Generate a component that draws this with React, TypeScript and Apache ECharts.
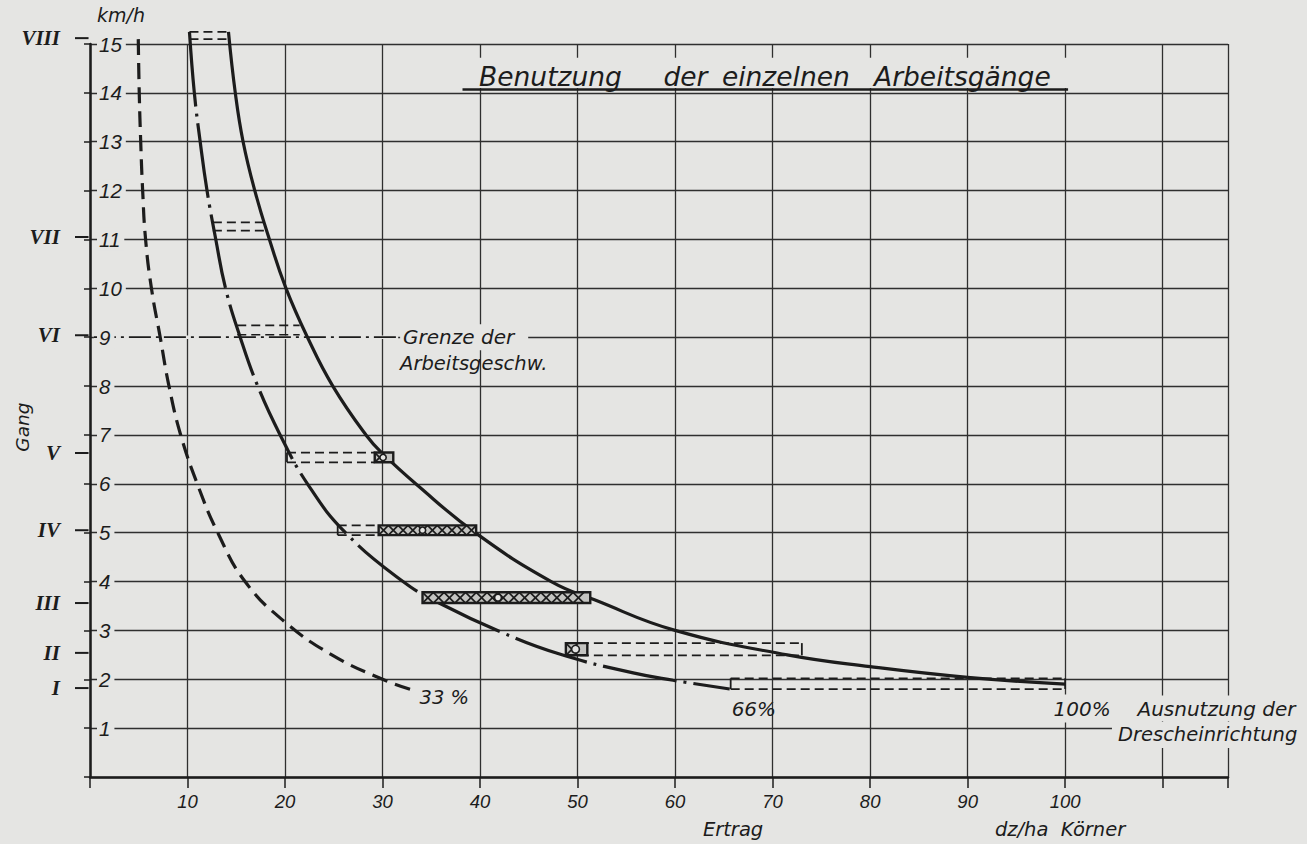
import React, { useEffect, useRef } from "react";
import * as echarts from "echarts";

const PAPER = "#e5e5e3";
const INK = "#1c1c1c";
const GRID_INK = "#2f2f2f";
const SANS = '"DejaVu Sans", "Liberation Sans", sans-serif';
const NUM = '"Liberation Sans", "DejaVu Sans", sans-serif';
const SERIF = '"Liberation Serif", "DejaVu Serif", serif';

// ---- axis tick labels ----
const xLabelValues = [10, 20, 30, 40, 50, 60, 70, 80, 90, 100];
const yLabelValues = [1, 2, 3, 4, 5, 6, 7, 8, 9, 10, 11, 12, 13, 14, 15];
const xMax = 116.7;
const yMax = 15;

// ---- curves (Ertrag dz/ha, km/h) ----
const curve33: number[][] = [
  [4.95, 15.1], [5.05, 14], [5.2, 13], [5.4, 12], [5.7, 11], [6.3, 10], [7.2, 9],
  [8.1, 8], [9.3, 7], [11.0, 6], [13.1, 5], [15.9, 4], [20.0, 3.17], [24.8, 2.5],
  [30.0, 2.0], [33.1, 1.78],
];
const curve66: number[][] = [
  [10.2, 15.25], [10.7, 14], [11.3, 13], [12.0, 12], [12.9, 11], [13.9, 10], [15.4, 9],
  [17.2, 8], [19.5, 7], [22.3, 6], [26.2, 5], [32.1, 4], [35.9, 3.55], [42.1, 2.97],
  [48.4, 2.5], [55.7, 2.13], [59.8, 1.98], [65.6, 1.8],
];
const curve100: number[][] = [
  [14.2, 15.25], [14.9, 14], [15.7, 13], [16.9, 12], [18.4, 11], [20.1, 10], [22.3, 9],
  [24.9, 8], [28.3, 7], [30.1, 6.6], [33.4, 6], [39.5, 5], [47.3, 4], [51.8, 3.62],
  [60.0, 3.0], [71.5, 2.5], [80, 2.26], [90, 2.04], [100, 1.9],
];

// ---- gears (Gang) ----
const gearNames = ["I", "II", "III", "IV", "V", "VI", "VII", "VIII"];
const gearSpeeds = [1.82, 2.54, 3.56, 5.05, 6.63, 9.04, 11.05, 15.12];
const boxLow = [1.8, 2.49, 3.56, 4.95, 6.44, 9.05, 11.18, 15.1];
const boxHigh = [2.02, 2.74, 3.78, 5.15, 6.64, 9.24, 11.35, 15.25];
const dashFrom: (number | null)[] = [65.7, 48.8, null, 25.4, 20.2, 15.1, 12.6, 10.2];
const dashTo: (number | null)[] = [100, 73.0, null, 29.6, 29.2, 21.5, 17.9, 14.2];
const hatchFrom: (number | null)[] = [null, 48.8, 34.1, 29.6, 29.2, null, null, null];
const hatchTo: (number | null)[] = [null, 51.0, 51.3, 39.6, 31.1, null, null, null];
const capLeft = [true, false, false, true, true, false, false, false];
const capRight = [true, true, false, false, false, false, false, false];

// ---- speed limit line ("Grenze der Arbeitsgeschw.") ----
const speedLimit = 9;
const speedLimitFrom = 0.4;
const speedLimitTo = 31.6;

// ---- texts (anchored in data coordinates) ----
type Note = { text: string; x: number; y: number; size: number; bg?: boolean; pad?: number[]; align?: string; rot?: number };
const notes: Note[] = [
  { text: "km/h", x: 0.72, y: 15.59, size: 19 },
  { text: "Gang", x: -6.97, y: 7.16, size: 18.5, align: "center", rot: Math.PI / 2 },
  { text: "Grenze der", x: 31.8, y: 9.0, size: 20, bg: true, pad: [3, 14, 3, 3] },
  { text: "Arbeitsgeschw.", x: 31.8, y: 8.47, size: 19.5 },
  { text: "33 %", x: 33.8, y: 1.62, size: 19.5 },
  { text: "66%", x: 65.8, y: 1.4, size: 20 },
  { text: "100%", x: 98.4, y: 1.4, size: 20, bg: true, pad: [4, 4, 4, 4] },
  { text: "Ausnutzung der", x: 106.8, y: 1.4, size: 20, bg: true, pad: [4, 4, 2, 6] },
  { text: "Drescheinrichtung", x: 104.8, y: 0.86, size: 19.5, bg: true, pad: [2, 4, 4, 6] },
  { text: "Ertrag", x: 62.85, y: -1.08, size: 19.5 },
  { text: "dz/ha  Körner", x: 92.8, y: -1.08, size: 19.5 },
];
const titleWords = [
  { text: "Benutzung", x: 39.9 },
  { text: "der", x: 58.8 },
  { text: "einzelnen", x: 64.8 },
  { text: "Arbeitsgänge", x: 80.4 },
];
const titleY = 14.33;
const titleFrom = 38.2;
const titleTo = 100.3;

function renderGear(params: any, api: any) {
  const i = params.dataIndex;
  const lo = boxLow[i];
  const hi = boxHigh[i];
  const children: any[] = [];
  const dashStyle = { stroke: INK, lineWidth: 1.7, lineDash: [9, 5] };
  const f = dashFrom[i];
  const t = dashTo[i];
  if (f != null && t != null) {
    const a = api.coord([f, hi]);
    const b = api.coord([t, hi]);
    const c = api.coord([f, lo]);
    const d = api.coord([t, lo]);
    children.push({ type: "line", shape: { x1: a[0], y1: a[1], x2: b[0], y2: b[1] }, style: dashStyle });
    children.push({ type: "line", shape: { x1: c[0], y1: c[1], x2: d[0], y2: d[1] }, style: dashStyle });
    if (capLeft[i]) children.push({ type: "line", shape: { x1: a[0], y1: a[1], x2: c[0], y2: c[1] }, style: { stroke: INK, lineWidth: 1.8 } });
    if (capRight[i]) children.push({ type: "line", shape: { x1: b[0], y1: b[1], x2: d[0], y2: d[1] }, style: { stroke: INK, lineWidth: 1.8 } });
  }
  const hf = hatchFrom[i];
  const ht = hatchTo[i];
  if (hf != null && ht != null) {
    const p0 = api.coord([hf, hi]);
    const p1 = api.coord([ht, lo]);
    const x0 = p0[0], y0 = p0[1], x1 = p1[0], y1 = p1[1];
    const h = y1 - y0;
    children.push({ type: "rect", shape: { x: x0, y: y0, width: x1 - x0, height: h }, style: { fill: "#c4c4c1", stroke: INK, lineWidth: 2.4 } });
    for (let x = x0; x + h <= x1 + 0.5; x += h) {
      children.push({ type: "line", shape: { x1: x, y1: y0, x2: x + h, y2: y1 }, style: { stroke: INK, lineWidth: 1.7 } });
      children.push({ type: "line", shape: { x1: x + h, y1: y0, x2: x, y2: y1 }, style: { stroke: INK, lineWidth: 1.7 } });
    }
    const cx = x0 + (x1 - x0) * 0.45;
    children.push({ type: "circle", shape: { cx, cy: (y0 + y1) / 2, r: h * 0.32 }, style: { fill: PAPER, stroke: INK, lineWidth: 1.6 } });
  }
  return { type: "group", children };
}

export default function App() {
  const ref = useRef<HTMLDivElement>(null);

  useEffect(() => {
    if (!ref.current) return;
    const chart = echarts.init(ref.current, null, { renderer: "svg" });
    const curveBase = { type: "line", symbol: "none", smooth: 0.45, clip: false, silent: true, z: 5 };
    chart.setOption({
      animation: false,
      backgroundColor: PAPER,
      grid: { left: 90, right: 79, top: 44, bottom: 67, containLabel: false },
      xAxis: {
        type: "value",
        min: 0,
        max: xMax,
        interval: 10,
        axisLine: { show: true, onZero: false, lineStyle: { color: INK, width: 2.5 } },
        axisTick: { show: true, length: 11, lineStyle: { color: INK, width: 1.5 } },
        axisLabel: {
          formatter: (v: number) => (xLabelValues.indexOf(Math.round(v)) >= 0 && Math.abs(v - Math.round(v)) < 1e-6 ? String(Math.round(v)) : ""),
          color: INK, fontSize: 18.5, fontStyle: "italic", fontFamily: NUM, margin: 15,
        },
        splitLine: { show: true, lineStyle: { color: GRID_INK, width: 1.3 } },
      },
      yAxis: {
        type: "value",
        min: 0,
        max: yMax,
        interval: 1,
        axisLine: { show: true, onZero: false, lineStyle: { color: INK, width: 2.5 } },
        axisTick: { show: true, length: 6, lineStyle: { color: INK, width: 1.5 } },
        axisLabel: { show: false },
        splitLine: { show: true, lineStyle: { color: GRID_INK, width: 1.3 } },
      },
      series: [
        { ...curveBase, name: "33 %", data: curve33, lineStyle: { color: INK, width: 3.2, type: [16, 8] } },
        { ...curveBase, name: "66%", data: curve66, lineStyle: { color: INK, width: 3.2, type: [75, 7, 3, 7] } },
        { ...curveBase, name: "100%", data: curve100, lineStyle: { color: INK, width: 3.2, type: "solid" } },
        {
          type: "line", symbol: "none", silent: true, z: 3,
          data: [[speedLimitFrom, speedLimit], [speedLimitTo, speedLimit]],
          lineStyle: { color: PAPER, width: 3.5 },
        },
        {
          type: "line", symbol: "none", silent: true, z: 4,
          data: [[speedLimitFrom, speedLimit], [speedLimitTo, speedLimit]],
          lineStyle: { color: INK, width: 1.7, type: [22, 5, 3, 5] },
        },
        {
          type: "custom", clip: false, silent: true, z: 6,
          renderItem: renderGear,
          data: gearNames.map((_, i) => [dashFrom[i] ?? hatchFrom[i] ?? 0, boxLow[i]]),
        },
      ],
    });

    const P = (x: number, y: number) => chart.convertToPixel({ seriesIndex: 0 }, [x, y]) as number[];
    const els: any[] = [];

    // y tick labels (km/h) drawn inside the axis, masking the grid lines behind them
    yLabelValues.forEach((v) => {
      const p = P(0.72, v);
      els.push({
        type: "text", z: 44, x: p[0], y: p[1],
        style: {
          text: String(v), fill: INK, fontSize: 20.5, fontStyle: "italic", fontFamily: NUM,
          align: "left", verticalAlign: "middle", backgroundColor: PAPER, padding: [2, 4, 1, 2],
        },
      });
    });

    // title
    const r0 = P(titleFrom, 14.72);
    const r1 = P(titleTo, 14.1);
    els.push({ type: "rect", z: 40, shape: { x: r0[0], y: r0[1], width: r1[0] - r0[0], height: r1[1] - r0[1] }, style: { fill: PAPER } });
    const u0 = P(titleFrom, 14.07);
    const u1 = P(titleTo, 14.07);
    els.push({ type: "line", z: 41, shape: { x1: u0[0], y1: u0[1], x2: u1[0], y2: u1[1] }, style: { stroke: INK, lineWidth: 2.4 } });
    titleWords.forEach((w) => {
      const p = P(w.x, titleY);
      els.push({
        type: "text", z: 42, x: p[0], y: p[1],
        style: { text: w.text, fill: INK, fontSize: 26.5, fontStyle: "italic", fontFamily: SANS, align: "left", verticalAlign: "middle" },
      });
    });

    // gear numerals + ticks
    gearNames.forEach((g, i) => {
      const tA = P(-1.54, gearSpeeds[i]);
      const tB = P(-0.15, gearSpeeds[i]);
      els.push({ type: "line", z: 40, shape: { x1: tA[0], y1: tA[1], x2: tB[0], y2: tB[1] }, style: { stroke: INK, lineWidth: 2 } });
      const lp = P(-3.08, gearSpeeds[i]);
      els.push({
        type: "text", z: 42, x: lp[0], y: lp[1],
        style: { text: g, fill: INK, fontSize: 21, fontStyle: "italic", fontWeight: "bold", fontFamily: SERIF, align: "right", verticalAlign: "middle" },
      });
    });

    // notes
    notes.forEach((n) => {
      const p = P(n.x, n.y);
      const style: any = {
        text: n.text, fill: INK, fontSize: n.size, fontStyle: "italic", fontFamily: SANS,
        align: n.align || "left", verticalAlign: "middle",
      };
      if (n.bg) {
        style.backgroundColor = PAPER;
        style.padding = n.pad || [2, 2, 2, 2];
      }
      els.push({ type: "text", z: 45, x: p[0], y: p[1], rotation: n.rot || 0, style });
    });

    chart.setOption({ graphic: { elements: els } });

    return () => chart.dispose();
  }, []);

  return (
    <div
      ref={ref}
      style={{ position: "fixed", left: 0, top: 0, width: 1307, height: 844, background: PAPER }}
    />
  );
}
